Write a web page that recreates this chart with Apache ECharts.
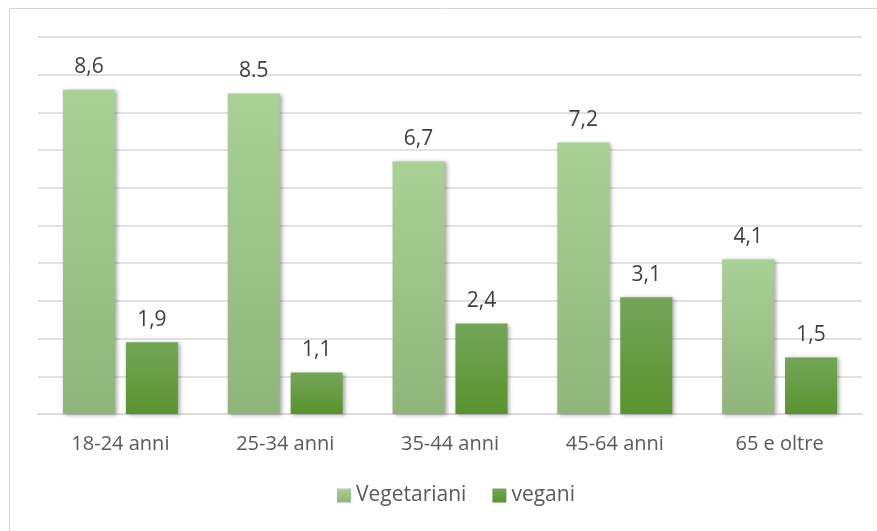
<!DOCTYPE html>
<html>
<head>
<meta charset="utf-8">
<script src="https://cdn.jsdelivr.net/npm/echarts@6/dist/echarts.min.js"></script>
<style>
  html, body { margin: 0; padding: 0; background: #fff; }
  #chart { width: 877px; height: 531px; }
</style>
</head>
<body>
<div id="chart"></div>
<script>
// dati
const categories = ['18-24 anni', '25-34 anni', '35-44 anni', '45-64 anni', '65 e oltre'];
const vegetariani = [8.6, 8.5, 6.7, 7.2, 4.1];
const vegani = [1.9, 1.1, 2.4, 3.1, 1.5];
const vegetarianiLabels = ['8,6', '8.5', '6,7', '7,2', '4,1'];
const veganiLabels = ['1,9', '1,1', '2,4', '3,1', '1,5'];

const chart = echarts.init(document.getElementById('chart'));

const font = 'Open Sans';
const shadow = {
    shadowBlur: 4,
    shadowColor: 'rgba(0,0,0,0.35)',
    shadowOffsetX: 2,
    shadowOffsetY: 1
};

const options = {
    animation: false,
    textStyle: { fontFamily: font },
    graphic: [{
        type: 'rect',
        shape: { x: 9.5, y: 8.5, width: 1000, height: 1000 },
        style: { fill: 'none', stroke: '#d9d9d9', lineWidth: 1 },
        silent: true
    }],
    grid: { left: 38, right: 15, top: 37, bottom: 117 },
    legend: {
        bottom: 20,
        left: 332,
        itemWidth: 14,
        itemHeight: 14,
        itemGap: 26,
        icon: 'rect',
        textStyle: { fontFamily: font, fontSize: 21, color: '#595959' },
        data: ['Vegetariani', 'vegani']
    },
    xAxis: {
        type: 'category',
        data: categories,
        axisTick: { show: false },
        axisLine: { lineStyle: { color: '#d9d9d9', width: 1.5 } },
        axisLabel: { fontFamily: font, fontSize: 20, color: '#595959', margin: 20 }
    },
    yAxis: {
        type: 'value',
        min: 0,
        max: 10,
        interval: 1,
        axisLabel: { show: false },
        axisLine: { show: false },
        splitLine: { lineStyle: { color: '#d9d9d9', width: 1.5 } }
    },
    series: [
        {
            name: 'Vegetariani',
            type: 'bar',
            data: vegetariani,
            barWidth: 52,
            barGap: '21%',
            itemStyle: Object.assign({
                color: new echarts.graphic.LinearGradient(0, 0, 0, 1, [
                    { offset: 0, color: '#a9d096' },
                    { offset: 1, color: '#90b57c' }
                ])
            }, shadow),
            label: {
                show: true,
                position: 'top',
                distance: 12,
                fontFamily: font,
                fontSize: 21,
                color: '#404040',
                formatter: p => vegetarianiLabels[p.dataIndex]
            }
        },
        {
            name: 'vegani',
            type: 'bar',
            data: vegani,
            barWidth: 52,
            itemStyle: Object.assign({
                color: new echarts.graphic.LinearGradient(0, 0, 0, 1, [
                    { offset: 0, color: '#74a558' },
                    { offset: 1, color: '#5a932f' }
                ])
            }, shadow),
            label: {
                show: true,
                position: 'top',
                distance: 12,
                fontFamily: font,
                fontSize: 21,
                color: '#404040',
                formatter: p => veganiLabels[p.dataIndex]
            }
        }
    ]
};

chart.setOption(options);
</script>
</body>
</html>
